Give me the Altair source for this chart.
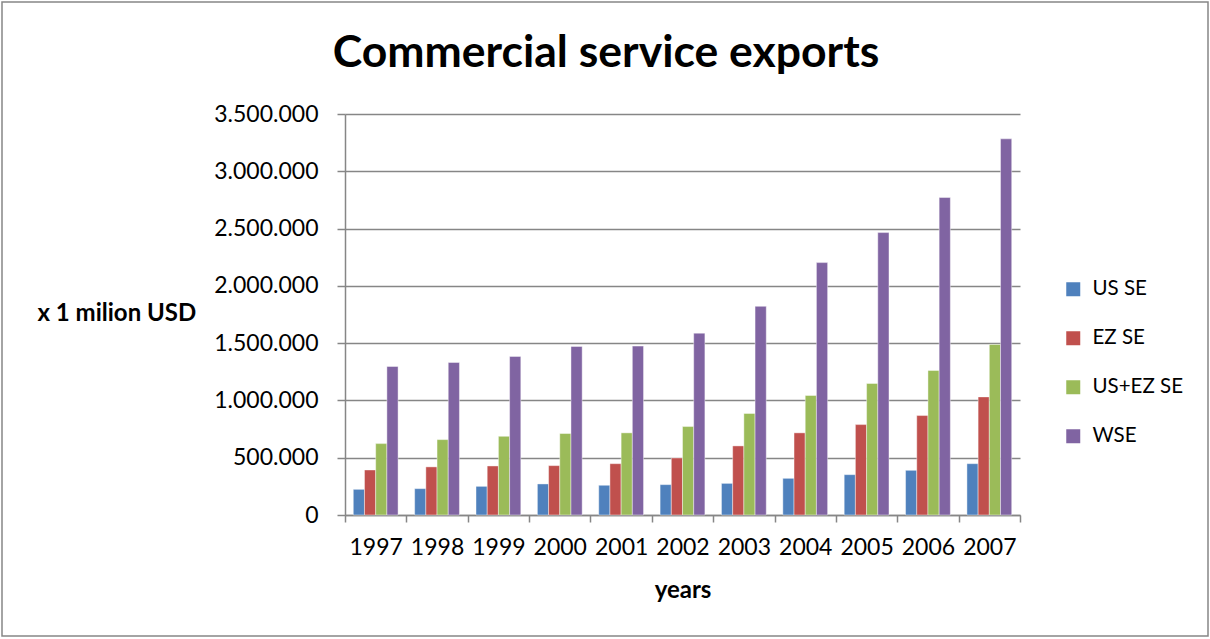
import altair as alt
import pandas as pd

title_text = "Commercial service exports"
years = ["1997", "1998", "1999", "2000", "2001", "2002", "2003", "2004", "2005", "2006", "2007"]
series = ["US SE", "EZ SE", "US+EZ SE", "WSE"]
us_se = [224000, 230000, 250000, 271000, 259000, 265000, 276000, 320000, 352000, 390000, 448000]
ez_se = [393000, 420000, 428000, 431000, 448000, 498000, 603000, 717000, 789000, 868000, 1031000]
usez_se = [623000, 658000, 687000, 711000, 717000, 772000, 886000, 1043000, 1148000, 1261000, 1489000]
wse = [1296000, 1331000, 1384000, 1471000, 1474000, 1587000, 1821000, 2203000, 2465000, 2771000, 3283000]
colors = ["#4F81BD", "#C0504D", "#9BBB59", "#8064A2"]
y_ticks = [0, 500000, 1000000, 1500000, 2000000, 2500000, 3000000, 3500000]

rows = []
for name, vals in zip(series, [us_se, ez_se, usez_se, wse]):
    for yr, v in zip(years, vals):
        rows.append({"year": yr, "series": name, "value": v})
df = pd.DataFrame(rows)

FONT = "Lato"
GRID = "#868686"

bars = alt.Chart(df).mark_bar(stroke="#ffffff", strokeWidth=0.6, strokeOpacity=0.7).encode(
    x=alt.X(
        "year:N",
        sort=years,
        scale=alt.Scale(paddingInner=0, paddingOuter=0),
        axis=alt.Axis(
            title="years",
            titleFont=FONT,
            titleFontSize=24,
            titleFontWeight="bold",
            titleColor="black",
            titlePadding=19,
            labelFont=FONT,
            labelFontSize=23,
            labelColor="black",
            labelAngle=0,
            labelPadding=14,
            tickBand="extent",
            tickSize=7,
            tickColor=GRID,
            tickWidth=1.5,
            domainColor=GRID,
            domainWidth=1.5,
            grid=False,
        ),
    ),
    xOffset=alt.XOffset("series:N", sort=series,
                        scale=alt.Scale(domain=series, paddingInner=0, paddingOuter=0.74)),
    y=alt.Y(
        "value:Q",
        scale=alt.Scale(domain=[0, 3500000], nice=False),
        axis=alt.Axis(
            values=y_ticks,
            labelExpr="replace(replace(format(datum.value, ','), ',', '.'), ',', '.')",
            title="x 1 milion USD",
            titleAngle=0,
            titleAlign="left",
            titleBaseline="middle",
            titleX=-308,
            titleY=199,
            titleFont=FONT,
            titleFontSize=24,
            titleFontWeight="bold",
            titleColor="black",
            labelFont=FONT,
            labelFontSize=23,
            labelColor="black",
            labelPadding=19,
            tickSize=8,
            tickColor=GRID,
            tickWidth=1.5,
            domainColor=GRID,
            domainWidth=1.5,
            gridColor=GRID,
            gridWidth=1.5,
        ),
    ),
    color=alt.Color(
        "series:N",
        sort=series,
        scale=alt.Scale(domain=series, range=colors),
        legend=alt.Legend(
            title=None,
            orient="none",
            legendX=718,
            legendY=165,
            symbolType="square",
            symbolSize=196,
            symbolStrokeWidth=0,
            labelFont=FONT,
            labelFontSize=20.5,
            labelColor="black",
            labelOffset=9,
            rowPadding=28,
        ),
    ),
)

border = alt.Chart(pd.DataFrame({"a": [0]})).mark_rect(
    fillOpacity=0, stroke=GRID, strokeWidth=1.5, clip=False
).encode(
    x=alt.value(-343), x2=alt.value(863), y=alt.value(-112), y2=alt.value(522)
)

title = alt.Chart(pd.DataFrame({"t": [title_text]})).mark_text(
    font=FONT, fontSize=44.5, fontWeight="bold", color="black",
    align="center", baseline="alphabetic", clip=False
).encode(
    text="t:N", x=alt.value(261), y=alt.value(-47)
)

chart = alt.layer(border, bars, title).properties(
    width=675,
    height=401,
    autosize="none",
    padding={"left": 345, "top": 114, "right": 190, "bottom": 124},
).configure_view(stroke=None)

chart.save("out.html", embed_options={"renderer": "svg", "actions": False})
